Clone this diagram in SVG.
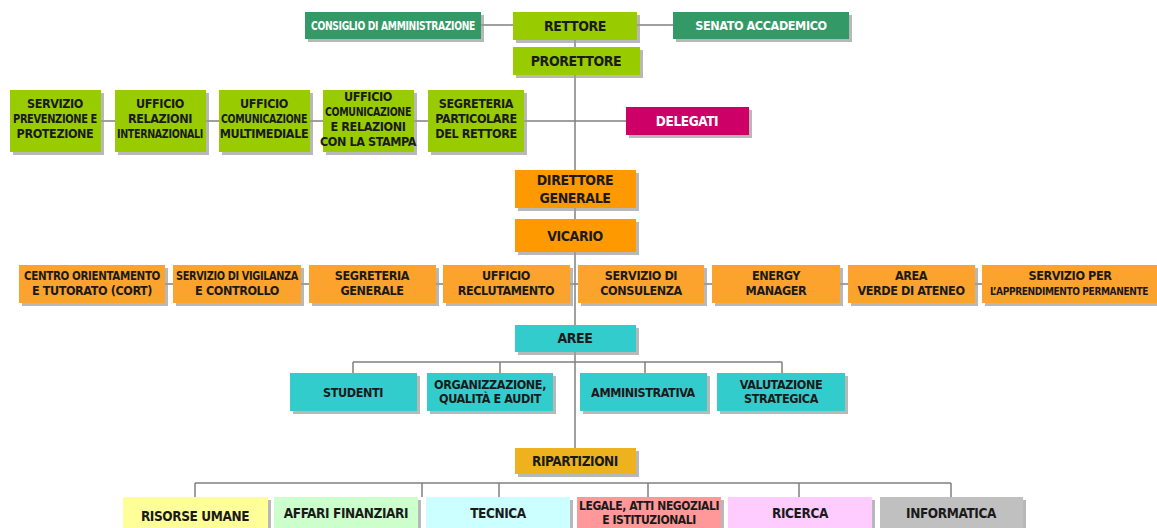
<svg xmlns="http://www.w3.org/2000/svg" width="1157" height="528" viewBox="0 0 1157 528">
<style>
.sh{fill:#9a9a9a;opacity:0.7}
.ln{stroke:#808080;stroke-width:1.5;fill:none}
text{font-family:"DejaVu Sans","Liberation Sans",sans-serif;font-stretch:condensed;font-weight:bold;font-size:12.5px;text-anchor:middle;fill:#1a1a1a;letter-spacing:-0.4px}
.w{fill:#ffffff}
.g1{fill:#99cc00}.g2{fill:#339966}.mg{fill:#cc0066}.or{fill:#ff9900}.o2{fill:#fba32c}.tl{fill:#33cccc}.rp{fill:#eeb21e}
</style>
<g id="connectors">
<path class="ln" d="M575 40V448"/>
<path class="ln" d="M481 25H513M637 25H673"/>
<path class="ln" d="M101 121H626"/>
<path class="ln" d="M165 284H982"/>
<path class="ln" d="M353 362H782M353 362V373M500 362V373M645 362V373M782 362V373"/>
<path class="ln" d="M195 483H951M195 483V497M422 483V497M499 483V497M648 483V497M799 483V497M951 483V497"/>
</g>
<g id="consiglio"><rect class="sh" x="308" y="15" width="176" height="27"/><rect class="g2" x="305" y="12" width="176" height="27"/><text class="w" x="393" y="30" textLength="164" lengthAdjust="spacingAndGlyphs">CONSIGLIO DI AMMINISTRAZIONE</text></g>
<g id="rettore"><rect class="sh" x="516" y="15" width="124" height="28"/><rect class="g1" x="513" y="12" width="124" height="28"/><text x="575" y="31" style="font-size:14px">RETTORE</text></g>
<g id="senato"><rect class="sh" x="676" y="15" width="176" height="27"/><rect class="g2" x="673" y="12" width="176" height="27"/><text class="w" x="761" y="30">SENATO ACCADEMICO</text></g>
<g id="prorettore"><rect class="sh" x="516" y="50" width="127" height="28"/><rect class="g1" x="513" y="47" width="127" height="28"/><text x="576" y="66" style="font-size:14px">PRORETTORE</text></g>
<g id="spp"><rect class="sh" x="13" y="93" width="91" height="62"/><rect class="g1" x="10" y="90" width="91" height="62"/><text x="55" y="108">SERVIZIO</text><text x="55" y="123" textLength="84" lengthAdjust="spacingAndGlyphs">PREVENZIONE E</text><text x="55" y="138">PROTEZIONE</text></g>
<g id="uri"><rect class="sh" x="118" y="93" width="91" height="62"/><rect class="g1" x="115" y="90" width="91" height="62"/><text x="160" y="108">UFFICIO</text><text x="160" y="123">RELAZIONI</text><text x="160" y="138" textLength="86" lengthAdjust="spacingAndGlyphs">INTERNAZIONALI</text></g>
<g id="ucm"><rect class="sh" x="222" y="93" width="91" height="62"/><rect class="g1" x="219" y="90" width="91" height="62"/><text x="264" y="108">UFFICIO</text><text x="264" y="123" textLength="86" lengthAdjust="spacingAndGlyphs">COMUNICAZIONE</text><text x="264" y="138">MULTIMEDIALE</text></g>
<g id="ucrs"><rect class="sh" x="326" y="93" width="91" height="62"/><rect class="g1" x="323" y="90" width="91" height="62"/><text x="368" y="101">UFFICIO</text><text x="368" y="116" textLength="86" lengthAdjust="spacingAndGlyphs">COMUNICAZIONE</text><text x="368" y="131">E RELAZIONI</text><text x="368" y="146">CON LA STAMPA</text></g>
<g id="spr"><rect class="sh" x="431" y="93" width="96" height="62"/><rect class="g1" x="428" y="90" width="96" height="62"/><text x="476" y="108">SEGRETERIA</text><text x="476" y="123">PARTICOLARE</text><text x="476" y="138">DEL RETTORE</text></g>
<g id="delegati"><rect class="sh" x="629" y="110" width="123" height="28"/><rect class="mg" x="626" y="107" width="123" height="28"/><text class="w" x="687" y="126" style="font-size:13.5px">DELEGATI</text></g>
<g id="direttore"><rect class="sh" x="518" y="173" width="121" height="38"/><rect class="or" x="515" y="170" width="121" height="38"/><text x="575" y="185" style="font-size:14px">DIRETTORE</text><text x="575" y="203" style="font-size:14px">GENERALE</text></g>
<g id="vicario"><rect class="sh" x="518" y="222" width="121" height="33"/><rect class="or" x="515" y="219" width="121" height="33"/><text x="575" y="241" style="font-size:14px">VICARIO</text></g>
<g id="cort"><rect class="sh" x="22" y="268" width="146" height="38"/><rect class="o2" x="19" y="265" width="146" height="38"/><text x="92" y="280" textLength="136" lengthAdjust="spacingAndGlyphs">CENTRO ORIENTAMENTO</text><text x="92" y="295">E TUTORATO (CORT)</text></g>
<g id="vigilanza"><rect class="sh" x="176" y="268" width="128" height="38"/><rect class="o2" x="173" y="265" width="128" height="38"/><text x="237" y="280" textLength="122" lengthAdjust="spacingAndGlyphs">SERVIZIO DI VIGILANZA</text><text x="237" y="295">E CONTROLLO</text></g>
<g id="seggen"><rect class="sh" x="312" y="268" width="127" height="38"/><rect class="o2" x="309" y="265" width="127" height="38"/><text x="372" y="280">SEGRETERIA</text><text x="372" y="295">GENERALE</text></g>
<g id="reclutamento"><rect class="sh" x="446" y="268" width="127" height="38"/><rect class="o2" x="443" y="265" width="127" height="38"/><text x="506" y="280">UFFICIO</text><text x="506" y="295">RECLUTAMENTO</text></g>
<g id="consulenza"><rect class="sh" x="581" y="268" width="126" height="38"/><rect class="o2" x="578" y="265" width="126" height="38"/><text x="641" y="280">SERVIZIO DI</text><text x="641" y="295">CONSULENZA</text></g>
<g id="energy"><rect class="sh" x="715" y="268" width="128" height="38"/><rect class="o2" x="712" y="265" width="128" height="38"/><text x="776" y="280">ENERGY</text><text x="776" y="295">MANAGER</text></g>
<g id="verde"><rect class="sh" x="851" y="268" width="127" height="38"/><rect class="o2" x="848" y="265" width="127" height="38"/><text x="911" y="280">AREA</text><text x="911" y="295">VERDE DI ATENEO</text></g>
<g id="apprendimento"><rect class="sh" x="985" y="268" width="180" height="38"/><rect class="o2" x="982" y="265" width="180" height="38"/><text x="1070" y="280">SERVIZIO PER</text><text x="1069" y="295" style="font-size:10.5px" textLength="158" lengthAdjust="spacingAndGlyphs">L’APPRENDIMENTO PERMANENTE</text></g>
<g id="aree"><rect class="sh" x="518" y="328" width="121" height="27"/><rect class="tl" x="515" y="325" width="121" height="27"/><text x="575" y="343" style="font-size:14px">AREE</text></g>
<g id="studenti"><rect class="sh" x="293" y="376" width="127" height="38"/><rect class="tl" x="290" y="373" width="127" height="38"/><text x="353" y="397">STUDENTI</text></g>
<g id="organizzazione"><rect class="sh" x="430" y="376" width="126" height="38"/><rect class="tl" x="427" y="373" width="126" height="38"/><text x="490" y="389">ORGANIZZAZIONE,</text><text x="490" y="403">QUALITÀ E AUDIT</text></g>
<g id="amministrativa"><rect class="sh" x="583" y="376" width="127" height="38"/><rect class="tl" x="580" y="373" width="127" height="38"/><text x="643" y="397">AMMINISTRATIVA</text></g>
<g id="valutazione"><rect class="sh" x="720" y="376" width="128" height="38"/><rect class="tl" x="717" y="373" width="128" height="38"/><text x="781" y="389">VALUTAZIONE</text><text x="781" y="403">STRATEGICA</text></g>
<g id="ripartizioni"><rect class="sh" x="518" y="451" width="121" height="26"/><rect class="rp" x="515" y="448" width="121" height="26"/><text x="575" y="466" style="font-size:13.5px">RIPARTIZIONI</text></g>
<g id="risorse"><rect class="sh" x="126" y="500" width="145" height="40"/><rect fill="#ffff99" x="123" y="497" width="145" height="40"/><text x="195" y="521" style="font-size:13.5px">RISORSE UMANE</text></g>
<g id="affari"><rect class="sh" x="277" y="500" width="144" height="40"/><rect fill="#ccffcc" x="274" y="497" width="144" height="40"/><text x="346" y="518" style="font-size:13.5px">AFFARI FINANZIARI</text></g>
<g id="tecnica"><rect class="sh" x="429" y="500" width="144" height="40"/><rect fill="#ccffff" x="426" y="497" width="144" height="40"/><text x="498" y="518" style="font-size:13.5px">TECNICA</text></g>
<g id="legale"><rect class="sh" x="580" y="500" width="144" height="40"/><rect fill="#ff9999" x="577" y="497" width="144" height="40"/><text x="649" y="510" style="font-size:12px" textLength="140" lengthAdjust="spacingAndGlyphs">LEGALE, ATTI NEGOZIALI</text><text x="649" y="524" style="font-size:12px">E ISTITUZIONALI</text></g>
<g id="ricerca"><rect class="sh" x="731" y="500" width="144" height="40"/><rect fill="#ffccff" x="728" y="497" width="144" height="40"/><text x="800" y="518" style="font-size:13.5px">RICERCA</text></g>
<g id="informatica"><rect class="sh" x="883" y="500" width="143" height="40"/><rect fill="#c0c0c0" x="880" y="497" width="143" height="40"/><text x="951" y="518" style="font-size:13.5px">INFORMATICA</text></g>
</svg>
